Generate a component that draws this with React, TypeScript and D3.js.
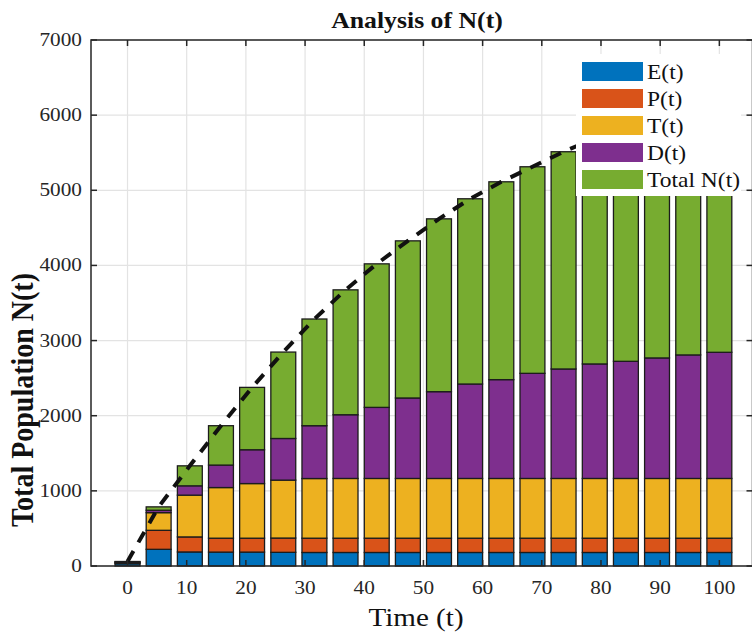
import React from 'react';
import * as d3 from 'd3';

// bar positions (time), 20 evenly spaced samples from 0 to 100
const times = [0, 5.26, 10.53, 15.79, 21.05, 26.32, 31.58, 36.84, 42.11, 47.37, 52.63, 57.89, 63.16, 68.42, 73.68, 78.95, 84.21, 89.47, 94.74, 100];

const seriesNames = ['E(t)', 'P(t)', 'T(t)', 'D(t)', 'Total N(t)'];
const seriesColors = ['#0072BD', '#D95319', '#EDB120', '#7E2F8E', '#77AC30'];

// stacked segment heights
const eVals = [30, 222, 187, 185, 185, 182, 180, 180, 180, 180, 180, 180, 180, 180, 180, 180, 180, 180, 180, 180];
const pVals = [10, 253, 200, 185, 185, 190, 190, 190, 190, 190, 190, 190, 190, 190, 190, 190, 190, 190, 190, 190];
const tVals = [10, 235, 556, 674, 727, 771, 794, 795, 795, 795, 795, 795, 795, 795, 795, 795, 795, 795, 795, 795];
const dVals = [5, 32, 124, 299, 450, 554, 703, 848, 946, 1071, 1155, 1257, 1315, 1399, 1457, 1524, 1559, 1604, 1644, 1679];
const nVals = [5, 45, 266, 524, 830, 1150, 1420, 1662, 1910, 2091, 2300, 2465, 2633, 2749, 2891, 3001, 3126, 3221, 3311, 3386];

const xTicks = [0, 10, 20, 30, 40, 50, 60, 70, 80, 90, 100];
const yTicks = [0, 1000, 2000, 3000, 4000, 5000, 6000, 7000];

const W = 752;
const H = 637;
const left = 91;
const right = 752.5;
const top = 40;
const bottom = 566;
const font = '"Liberation Serif", "Times New Roman", serif';
const sx = 1.12; // the reference text looks a little wide

export default function App() {
  const x = d3.scaleLinear().domain([-6.17, 105.6]).range([left, right]);
  const y = d3.scaleLinear().domain([0, 7000]).range([bottom, top]);

  const keys = ['e', 'p', 't2', 'd', 'n'];
  const table = times.map((t, i) => ({ t, e: eVals[i], p: pVals[i], t2: tVals[i], d: dVals[i], n: nVals[i] }));
  const stack = d3.stack<any>().keys(keys)(table);

  const spacing = times[1] - times[0];
  const bw = x(0.8 * spacing) - x(0);

  const totals = table.map((r) => ({ t: r.t, v: r.e + r.p + r.t2 + r.d + r.n }));
  const line = d3
    .line<{ t: number; v: number }>()
    .x((d) => x(d.t))
    .y((d) => y(d.v));

  const legX = 576;
  const legY = 54;

  const txt = (px: number, py: number) => `translate(${px},${py}) scale(${sx},1)`;

  return (
    <svg width={W} height={H} style={{ position: 'absolute', left: 0, top: 0, background: '#fff' }}>
      {/* grid */}
      {xTicks.map((t) => (
        <line key={'gx' + t} x1={x(t)} x2={x(t)} y1={top} y2={bottom} stroke="#e3e3e3" strokeWidth={1.2} />
      ))}
      {yTicks.map((t) => (
        <line key={'gy' + t} x1={left} x2={right} y1={y(t)} y2={y(t)} stroke="#e3e3e3" strokeWidth={1.2} />
      ))}

      {/* bars */}
      {stack.map((layer, li) => (
        <g key={keys[li]} fill={seriesColors[li]}>
          {layer.map((d, i) => (
            <rect
              key={i}
              x={x(times[i]) - bw / 2}
              y={y(d[1])}
              width={bw}
              height={y(d[0]) - y(d[1])}
              stroke="#1c1c1c"
              strokeWidth={1.3}
            />
          ))}
        </g>
      ))}

      {/* dashed total line */}
      <path d={line(totals) || ''} fill="none" stroke="#111" strokeWidth={4} strokeDasharray="12,10" />

      {/* axes box */}
      <rect x={left} y={top} width={right - left} height={bottom - top} fill="none" stroke="#262626" strokeWidth={1.5} />
      {xTicks.map((t) => (
        <g key={'tx' + t}>
          <line x1={x(t)} x2={x(t)} y1={top} y2={top + 6} stroke="#262626" strokeWidth={1.5} />
          <line x1={x(t)} x2={x(t)} y1={bottom} y2={bottom - 6} stroke="#262626" strokeWidth={1.5} />
          <text transform={txt(x(t), 594)} textAnchor="middle" fontFamily={font} fontSize={19} fill="#262626">
            {t}
          </text>
        </g>
      ))}
      {yTicks.map((t) => (
        <g key={'ty' + t}>
          <line x1={left} x2={left + 6} y1={y(t)} y2={y(t)} stroke="#262626" strokeWidth={1.5} />
          <line x1={right} x2={right - 6} y1={y(t)} y2={y(t)} stroke="#262626" strokeWidth={1.5} />
          <text transform={txt(82, y(t) + 6)} textAnchor="end" fontFamily={font} fontSize={19} fill="#262626">
            {t}
          </text>
        </g>
      ))}

      {/* legend */}
      <rect x={legX} y={legY} width={165} height={142} fill="#fff" />
      {seriesNames.map((name, i) => (
        <g key={name} transform={`translate(${legX + 6},${legY + 8 + i * 27})`}>
          <rect width={61} height={19} fill={seriesColors[i]} />
          <text transform={txt(65, 17)} fontFamily={font} fontSize={21} fill="#111">
            {name}
          </text>
        </g>
      ))}

      {/* titles */}
      <text transform={txt(417, 28)} textAnchor="middle" fontFamily={font} fontSize={23} fontWeight="bold" fill="#111">
        Analysis of N(t)
      </text>
      <text transform={txt(416, 626)} textAnchor="middle" fontFamily={font} fontSize={26} fill="#111">
        Time (t)
      </text>
      <text
        transform={`translate(33,400) rotate(-90) scale(1,${sx})`}
        textAnchor="middle"
        fontFamily={font}
        fontSize={28}
        fontWeight="bold"
        fill="#111"
      >
        Total Population N(t)
      </text>
    </svg>
  );
}
